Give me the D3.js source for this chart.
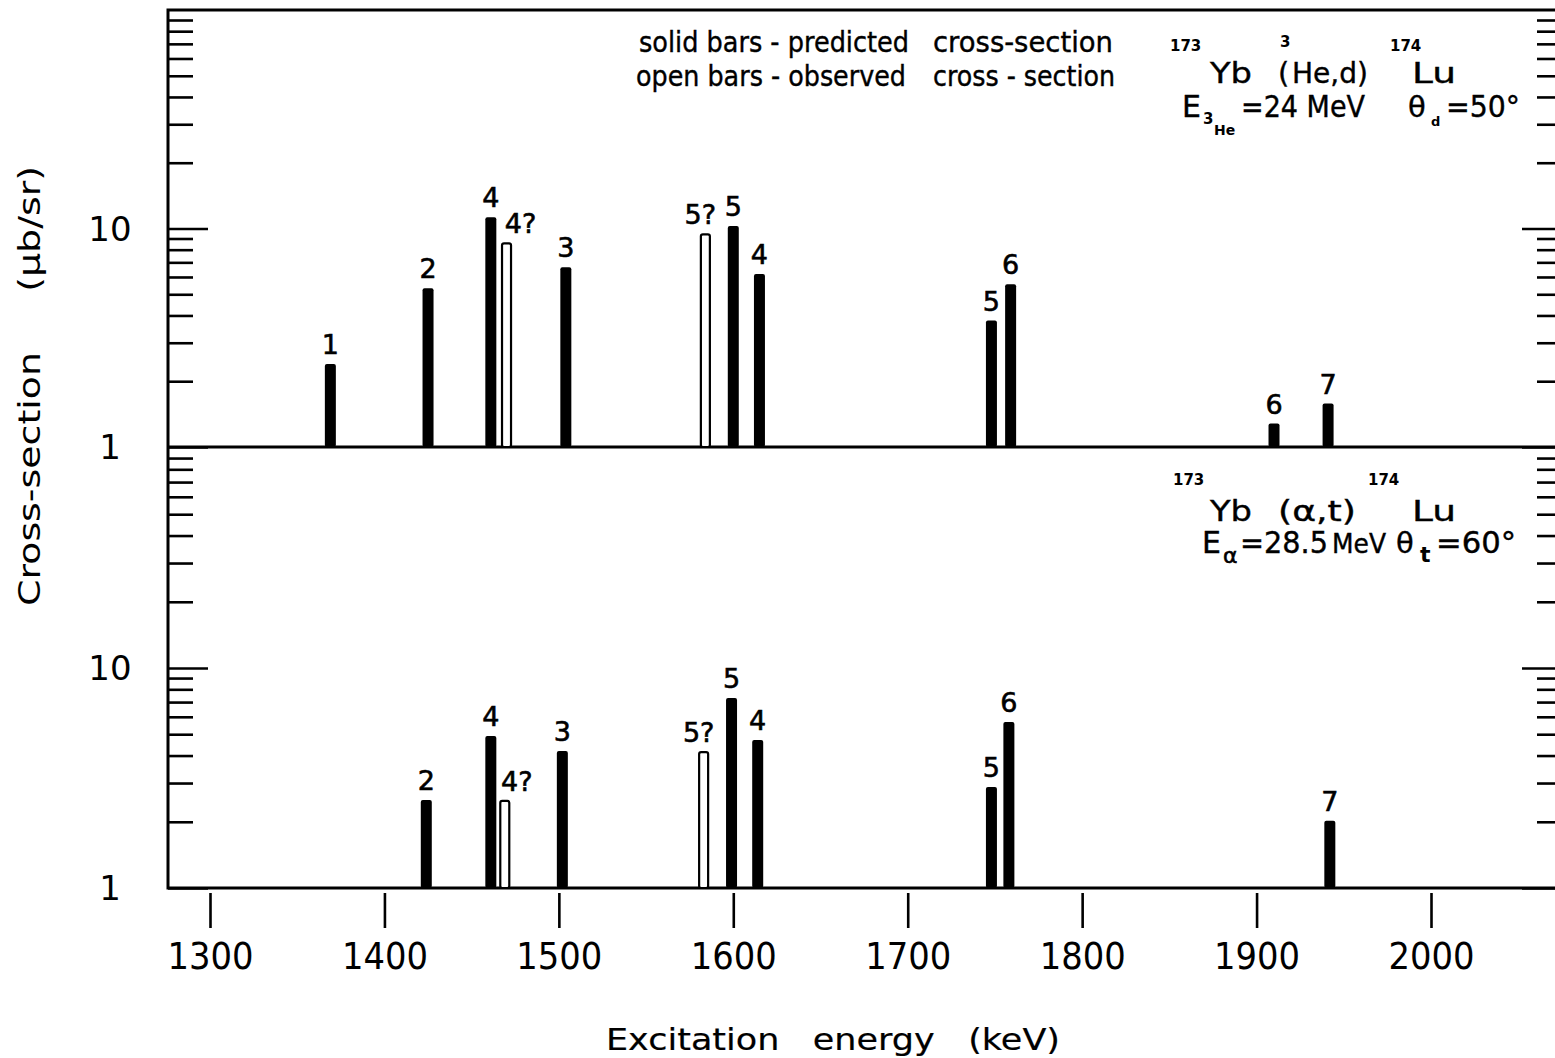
<!DOCTYPE html>
<html><head><meta charset="utf-8">
<script src="https://cdn.jsdelivr.net/npm/d3@7"></script>
<style>
body{margin:0;background:#fff}
svg{display:block}
text{font-family:"DejaVu Sans",sans-serif;fill:#000;white-space:pre}
</style>
</head><body>
<svg id="c" width="1555" height="1058"></svg>
<script>
// ---------- data ----------
const xTickValues = [1300,1400,1500,1600,1700,1800,1900,2000];
const xTickLabels = ["1300","1400","1500","1600","1700","1800","1900","2000"];
const yMinorTicks = [2,3,4,5,6,7,8,9,20,30,40,50,60,70,80,90];
const yMajorTicks = [1,10];
const yTickLabels = ["1","10"];

// (3He,d) panel
const topEnergy = [1369,1425,1461,1470,1504,1584,1600,1615,1748,1759,1910,1941];
const topValue  = [2.40,5.33,11.25,8.55,6.64,9.40,10.27,6.19,3.79,5.55,1.28,1.58];
const topOpen   = [false,false,false,true,false,true,false,false,false,false,false,false];
const topLabel  = ["1","2","4","4?","3","5?","5","4","5","6","6","7"];

// (alpha,t) panel
const botEnergy = [1424,1461,1469,1502,1583,1599,1614,1748,1758,1942];
const botValue  = [2.51,4.91,2.49,4.20,4.15,7.31,4.71,2.88,5.69,2.02];
const botOpen   = [false,false,true,false,true,false,false,false,false,false];
const botLabel  = ["2","4","4?","3","5?","5","4","5","6","7"];

// ---------- layout ----------
const svg = d3.select("#c");
const L = 168, R = 1562;
const x = d3.scaleLinear().domain([1300,2000]).range([210,1431]);
const yTop = d3.scaleLog().domain([1,100]).range([447,10]);
const yBot = d3.scaleLog().domain([1,100]).range([888,448]);

const ink = "#000";

// frames
svg.append("rect").attr("x",L).attr("y",yTop(100)).attr("width",R-L).attr("height",yBot(1)-yTop(100))
  .attr("fill","none").attr("stroke",ink).attr("stroke-width",3);
svg.append("line").attr("x1",L).attr("x2",R).attr("y1",yTop(1)).attr("y2",yTop(1))
  .attr("stroke",ink).attr("stroke-width",3);

// y ticks (left and right) via d3 axes
function yAxes(scale){
  const all = yMajorTicks.concat(yMinorTicks);
  const gl = svg.append("g").attr("transform",`translate(${L},0)`)
    .call(d3.axisRight(scale).tickValues(all).tickFormat("").tickSizeOuter(0));
  gl.select(".domain").remove();
  gl.selectAll(".tick line").attr("stroke",ink).attr("stroke-width",2.6)
    .attr("x2",d => yMajorTicks.includes(d) ? 40 : 25);
  const gr = svg.append("g").attr("transform",`translate(${R},0)`)
    .call(d3.axisLeft(scale).tickValues(all).tickFormat("").tickSizeOuter(0));
  gr.select(".domain").remove();
  gr.selectAll(".tick line").attr("stroke",ink).attr("stroke-width",2.6)
    .attr("x2",d => yMajorTicks.includes(d) ? -40 : -25);
  svg.append("g").selectAll("text").data(yMajorTicks).join("text")
    .attr("x",110).attr("y",d=>scale(d)).attr("dy","0.36em")
    .attr("text-anchor","middle").attr("font-size",34)
    .text((d,i)=>yTickLabels[i]);
}
yAxes(yTop);
yAxes(yBot);

// x axis ticks below bottom panel
const gx = svg.append("g").attr("transform",`translate(0,${yBot(1)+5})`)
  .call(d3.axisBottom(x).tickValues(xTickValues).tickSize(35).tickSizeOuter(0)
        .tickFormat((d,i)=>xTickLabels[i]).tickPadding(14));
gx.select(".domain").remove();
gx.selectAll(".tick line").attr("stroke",ink).attr("stroke-width",2.6);
gx.selectAll(".tick text").attr("font-size",38).attr("fill",ink)
  .attr("font-family","DejaVu Sans, sans-serif")
  .attr("textLength",86).attr("lengthAdjust","spacingAndGlyphs");

// bars
const labelDx = {"top-3":14,"top-5":-5,"bot-2":12,"bot-4":-5};
function bars(key, scale, E, V, O, Lb){
  const data = E.map((e,i)=>({e, v:V[i], open:O[i], lab:Lb[i], i}));
  const g = svg.append("g");
  g.selectAll("rect").data(data).join("rect")
    .attr("x",d=> x(d.e) - (d.open?4.5:5.5))
    .attr("y",d=> scale(d.v))
    .attr("width",d=> d.open?9:11)
    .attr("height",d=> scale(1)-scale(d.v))
    .attr("rx",2)
    .attr("fill",d=> d.open?"#fff":ink)
    .attr("stroke",d=> d.open?ink:"none")
    .attr("stroke-width",2.2);
  g.selectAll("text").data(data).join("text")
    .attr("x",d=> x(d.e) + (labelDx[key+"-"+d.i]||0))
    .attr("y",d=> scale(d.v) - 10)
    .attr("text-anchor","middle").attr("font-size",27)
    .attr("stroke",ink).attr("stroke-width",0.6)
    .text(d=>d.lab);
}
bars("top", yTop, topEnergy, topValue, topOpen, topLabel);
bars("bot", yBot, botEnergy, botValue, botOpen, botLabel);

// annotations
function t(xp, yp, s, size, opts={}){
  const el = svg.append("text").attr("x",xp).attr("y",yp).attr("font-size",size).text(s);
  if(opts.len) el.attr("textLength",opts.len).attr("lengthAdjust","spacingAndGlyphs");
  if(opts.bold) el.attr("font-weight","bold");
  if(opts.anchor) el.attr("text-anchor",opts.anchor);
  if(opts.stroke) el.attr("stroke",ink).attr("stroke-width",opts.stroke);
  return el;
}
t(639,52,"solid bars - predicted",28,{len:270,stroke:0.4});
t(933,52,"cross-section",28,{len:180,stroke:0.4});
t(636,86,"open bars - observed",28,{len:270,stroke:0.4});
t(933,86,"cross - section",28,{len:182,stroke:0.4});

// (3He,d) header
t(1170,51,"173",15,{bold:true});
t(1210,83,"Yb",29,{len:42,stroke:0.4});
t(1278,83,"(",29,{stroke:0.4});
t(1280,47,"3",15,{bold:true});
t(1292,83,"He,d)",29,{len:76,stroke:0.4});
t(1390,51,"174",15,{bold:true});
t(1412,83,"Lu",29,{len:44,stroke:0.4});
t(1182,117,"E",30,{stroke:0.4});
t(1203,124,"3",15,{bold:true});
t(1214,135,"He",14,{bold:true});
t(1241,117,"=24 MeV",30,{len:124,stroke:0.4});
t(1408,117,"θ",29,{stroke:0.4});
t(1431,126,"d",13,{bold:true});
t(1446,117,"=50°",30,{len:74,stroke:0.4});

// (alpha,t) header
t(1173,485,"173",15,{bold:true});
t(1210,521,"Yb",29,{len:42,stroke:0.4});
t(1278,521,"(α,t)",29,{len:78,stroke:0.4});
t(1368,485,"174",15,{bold:true});
t(1412,521,"Lu",29,{len:44,stroke:0.4});
t(1202,553,"E",30,{stroke:0.4});
t(1223,563,"α",22,{stroke:0.6});
t(1240,553,"=28.5",30,{len:88,stroke:0.4});
t(1332,553,"MeV",27,{len:54,stroke:0.4});
t(1396,553,"θ",29,{stroke:0.4});
t(1420,562,"t",22,{bold:true});
t(1436,553,"=60°",30,{len:80,stroke:0.4});

// axis titles
t(833,1050,"Excitation   energy   (keV)",30,{len:454,anchor:"middle",stroke:0.2});
svg.append("text").attr("transform","translate(40,386) rotate(-90)")
  .attr("text-anchor","middle").attr("font-size",30)
  .attr("textLength",440).attr("lengthAdjust","spacingAndGlyphs")
  .text("Cross-section     (μb/sr)");
</script>
</body></html>
